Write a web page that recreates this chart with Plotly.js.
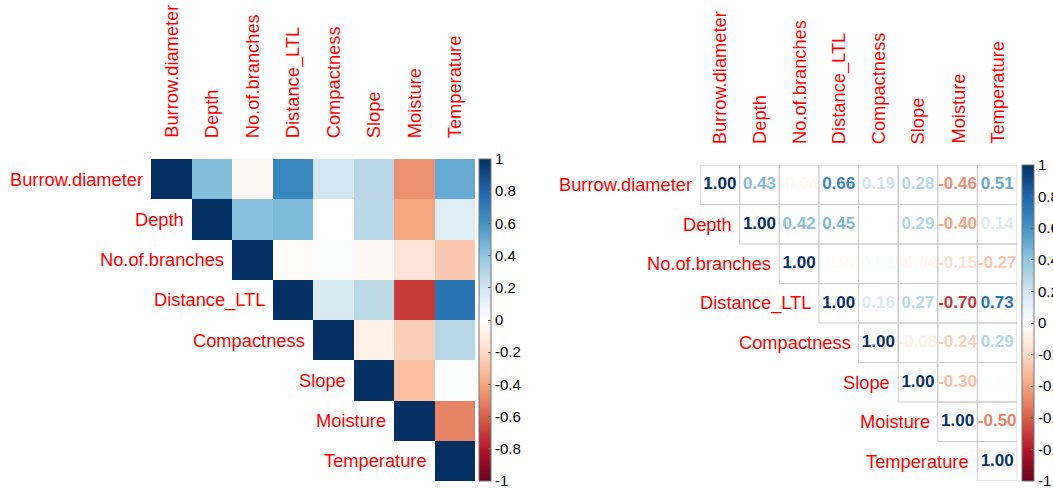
<!DOCTYPE html>
<html>
<head>
<meta charset="utf-8">
<script src="https://cdn.plot.ly/plotly-3.0.1.min.js"></script>
<style>
html,body{margin:0;padding:0;background:#fff;}
#chart{width:1053px;height:490px;}
</style>
</head>
<body>
<div id="chart"></div>
<script>
// ---- data ----
const variables = ["Burrow.diameter","Depth","No.of.branches","Distance_LTL","Compactness","Slope","Moisture","Temperature"];
// upper-triangle correlations, each row starts at its diagonal
const rowBurrow      = [1.00, 0.43, -0.04, 0.66, 0.19, 0.28, -0.46, 0.51];
const rowDepth       = [1.00, 0.42, 0.45, 0.00, 0.29, -0.40, 0.14];
const rowBranches    = [1.00, -0.02, 0.02, -0.04, -0.15, -0.27];
const rowDistance    = [1.00, 0.16, 0.27, -0.70, 0.73];
const rowCompactness = [1.00, -0.08, -0.24, 0.29];
const rowSlope       = [1.00, -0.30, 0.01];
const rowMoisture    = [1.00, -0.50];
const rowTemperature = [1.00];
const colorbarTicks  = [0.99999, 0.8, 0.6, 0.4, 0.2, 0, -0.2, -0.4, -0.6, -0.8, -0.99999];
const colorbarText   = ["1","0.8","0.6","0.4","0.2","0","-0.2","-0.4","-0.6","-0.8","-1"];

// ---- styling ----
const rdbu = ["#67001F","#B2182B","#D6604D","#F4A582","#FDDBC7","#FFFFFF","#D1E5F0","#92C5DE","#4393C3","#2166AC","#053061"];
const colorscale = rdbu.map((c,i)=>[i/(rdbu.length-1), c]);
const FONT = "Liberation Sans, Arial, sans-serif";
const labelColor = "#FF0000";

const rows = [rowBurrow,rowDepth,rowBranches,rowDistance,rowCompactness,rowSlope,rowMoisture,rowTemperature];
const n = variables.length;
const idx = variables.map((_,i)=>i);

// full matrix with nulls below diagonal
const z = rows.map((r,i)=>{
  const out = new Array(n).fill(null);
  r.forEach((v,k)=>{ out[i+k] = v; });
  return out;
});

function hex2rgb(h){return [parseInt(h.slice(1,3),16),parseInt(h.slice(3,5),16),parseInt(h.slice(5,7),16)];}
function valueColor(v){
  const t = (v+1)/2*(rdbu.length-1);
  const i = Math.min(Math.floor(t), rdbu.length-2);
  const f = t - i;
  const a = hex2rgb(rdbu[i]), b = hex2rgb(rdbu[i+1]);
  const c = a.map((x,k)=>Math.round(x+(b[k]-x)*f));
  return `rgb(${c[0]},${c[1]},${c[2]})`;
}

function colorbar(xpos, ytop, len, thick){
  return {
    x: xpos, xanchor: "left", y: ytop, yanchor: "top",
    len: len, lenmode: "fraction", thickness: thick, thicknessmode: "pixels",
    xpad: 0, ypad: 0, outlinewidth: 1, outlinecolor: "#777777",
    ticks: "inside", ticklen: 3, tickwidth: 1, tickcolor: "#666666",
    tickvals: colorbarTicks, ticktext: colorbarText,
    tickfont: {family: FONT, size: 15, color: "#000000"}
  };
}

// Left: colored squares
const heatLeft = {
  type: "heatmap", x: idx, y: idx, z: z,
  xaxis: "x", yaxis: "y",
  colorscale: colorscale, zmin: -1, zmax: 1,
  hoverongaps: false,
  colorbar: colorbar(479/1053, 331/490, 322/490, 12)
};

// Right: invisible heatmap just to carry the colour bar
const heatRight = {
  type: "heatmap", x: idx, y: idx, z: z,
  xaxis: "x2", yaxis: "y2",
  colorscale: colorscale, zmin: -1, zmax: 1, opacity: 0,
  hoverongaps: false,
  colorbar: colorbar(1022/1053, 325/490, 316/490, 12)
};

// Right: numbers
const tx=[], ty=[], tt=[], tc=[];
z.forEach((r,i)=>r.forEach((v,j)=>{
  if(v!==null){ tx.push(j); ty.push(i); tt.push(v.toFixed(2)); tc.push(valueColor(v)); }
}));
const numbers = {
  type: "scatter", mode: "text", x: tx, y: ty, text: tt,
  xaxis: "x2", yaxis: "y2",
  textposition: "middle center",
  textfont: {family: FONT, size: 17, color: tc, weight: "bold"},
  hoverinfo: "skip", showlegend: false
};

// grid boxes and labels
const shapes = [];
const annotations = [];
z.forEach((r,i)=>r.forEach((v,j)=>{
  if(v!==null){
    shapes.push({type:"rect", xref:"x2", yref:"y2", x0:j-0.5, x1:j+0.5, y0:i-0.5, y1:i+0.5,
      line:{color:"#cccccc", width:1}, fillcolor:"rgba(0,0,0,0)", layer:"below"});
  }
}));
[["x","y"],["x2","y2"]].forEach(([xa,ya])=>{
  variables.forEach((name,i)=>{
    annotations.push({xref:xa, yref:ya, x:i-0.5, y:i, text:name, showarrow:false,
      xanchor:"right", yanchor:"middle", xshift:-6,
      font:{family:FONT, size:18.3, color:labelColor}});
    annotations.push({xref:xa, yref:ya, x:i, y:-0.5, text:name, showarrow:false,
      textangle:-90, xanchor:"center", yanchor:"bottom", yshift:19,
      font:{family:FONT, size:18.3, color:labelColor}});
  });
});

const axisCommon = {showgrid:false, zeroline:false, showticklabels:false, ticks:"", showline:false, fixedrange:true};
const layout = {
  width: 1053, height: 490,
  margin: {l:0, r:0, t:0, b:0, autoexpand:false},
  paper_bgcolor: "#ffffff", plot_bgcolor: "rgba(0,0,0,0)",
  showlegend: false,
  xaxis:  Object.assign({}, axisCommon, {domain:[151/1053, 475/1053], range:[-0.5, n-0.5]}),
  yaxis:  Object.assign({}, axisCommon, {domain:[9/490, 331/490], range:[n-0.5, -0.5]}),
  xaxis2: Object.assign({}, axisCommon, {domain:[700/1053, 1017/1053], range:[-0.5, n-0.5]}),
  yaxis2: Object.assign({}, axisCommon, {domain:[9/490, 325/490], range:[n-0.5, -0.5]}),
  shapes: shapes,
  annotations: annotations
};

Plotly.newPlot("chart", [heatLeft, heatRight, numbers], layout, {displayModeBar:false, staticPlot:true});
</script>
</body>
</html>
